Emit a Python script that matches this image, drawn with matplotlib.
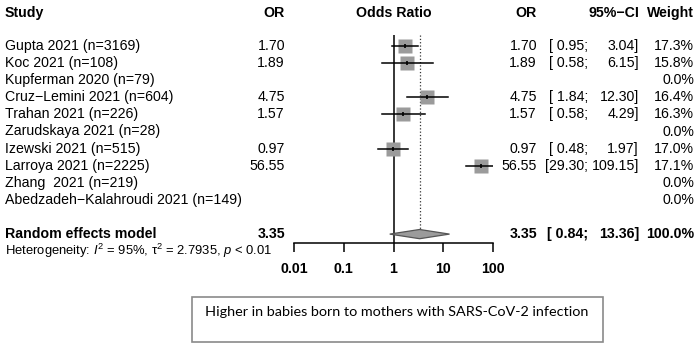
import numpy as np
import matplotlib
matplotlib.use("Agg")
import matplotlib.pyplot as plt
from matplotlib.patches import Polygon, Rectangle

plt.rcParams['font.family'] = ['Liberation Sans', 'DejaVu Sans']
plt.rcParams['mathtext.fontset'] = 'custom'
plt.rcParams['mathtext.rm'] = 'Liberation Sans'
plt.rcParams['mathtext.it'] = 'Liberation Sans:italic'

# data
studies = ["Gupta 2021 (n=3169)", "Koc 2021 (n=108)", "Kupferman 2020 (n=79)",
           "Cruz\u2212Lemini 2021 (n=604)", "Trahan 2021 (n=226)", "Zarudskaya 2021 (n=28)",
           "Izewski 2021 (n=515)", "Larroya 2021 (n=2225)", "Zhang  2021 (n=219)",
           "Abedzadeh\u2212Kalahroudi 2021 (n=149)"]
odds = [1.70, 1.89, np.nan, 4.75, 1.57, np.nan, 0.97, 56.55, np.nan, np.nan]
ci_lo = [0.95, 0.58, np.nan, 1.84, 0.58, np.nan, 0.48, 29.30, np.nan, np.nan]
ci_hi = [3.04, 6.15, np.nan, 12.30, 4.29, np.nan, 1.97, 109.15, np.nan, np.nan]
weight = [17.3, 15.8, 0.0, 16.4, 16.3, 0.0, 17.0, 17.1, 0.0, 0.0]
pooled = (3.35, 0.84, 13.36)
hetero = "Heterogeneity: $I^2$ = 95%, \u03c4$^2$ = 2.7935, $p$ < 0.01"
xticks = [0.01, 0.1, 1, 10, 100]
xticklabels = ["0.01", "0.1", "1", "10", "100"]
note = "Higher in babies born to mothers with SARS-CoV-2 infection"

W, H = 698, 344
fig = plt.figure(figsize=(W / 100, H / 100), dpi=100)

# background axes in pixel units for the text columns
bg = fig.add_axes([0, 0, 1, 1])
bg.set_xlim(0, W)
bg.set_ylim(H, 0)
bg.axis('off')

row0, step = 46, 17.1
def ry(i):
    return row0 + step * i

fs = 10.2
# headers
bg.text(5, 13, "Study", fontsize=fs, fontweight='bold', va='center', ha='left')
bg.text(285, 13, "OR", fontsize=fs, fontweight='bold', va='center', ha='right')
bg.text(394, 13, "Odds Ratio", fontsize=fs, fontweight='bold', va='center', ha='center')
bg.text(537, 13, "OR", fontsize=fs, fontweight='bold', va='center', ha='right')
bg.text(639, 13, "95%\u2212CI", fontsize=fs, fontweight='bold', va='center', ha='right')
bg.text(694, 13, "Weight", fontsize=fs, fontweight='bold', va='center', ha='right')

for i, name in enumerate(studies):
    y = ry(i)
    bg.text(5, y, name, fontsize=fs, va='center', ha='left')
    if not np.isnan(odds[i]):
        bg.text(285, y, f"{odds[i]:.2f}", fontsize=fs, va='center', ha='right')
        bg.text(537, y, f"{odds[i]:.2f}", fontsize=fs, va='center', ha='right')
        lo = f"{ci_lo[i]:.2f}"
        bg.text(588, y, ("[" if len(lo) > 4 else "[ ") + lo + ";", fontsize=fs,
                va='center', ha='right')
        bg.text(639, y, f"{ci_hi[i]:.2f}]", fontsize=fs, va='center', ha='right')
    bg.text(694, y, f"{weight[i]:.1f}%", fontsize=fs, va='center', ha='right')

yr = ry(11)
bg.text(5, yr, "Random effects model", fontsize=fs, fontweight='bold', va='center', ha='left')
bg.text(285, yr, f"{pooled[0]:.2f}", fontsize=fs, fontweight='bold', va='center', ha='right')
bg.text(537, yr, f"{pooled[0]:.2f}", fontsize=fs, fontweight='bold', va='center', ha='right')
bg.text(588, yr, f"[ {pooled[1]:.2f};", fontsize=fs, fontweight='bold', va='center', ha='right')
bg.text(639, yr, f"{pooled[2]:.2f}]", fontsize=fs, fontweight='bold', va='center', ha='right')
bg.text(694, yr, "100.0%", fontsize=fs, fontweight='bold', va='center', ha='right')
bg.text(5, 251, hetero, fontsize=9.4, va='center', ha='left')

# note box
bg.add_patch(Rectangle((192, 297), 411, 45, fill=False, edgecolor='#8a8a8a', lw=1.2))
bg.text(205, 312, note, fontsize=10.4, family='Lato', va='center', ha='left')

# forest axes (log scale)
x0, x1 = 294, 493
ytop, ybot = 35, 243
ax = fig.add_axes([x0 / W, 1 - ybot / H, (x1 - x0) / W, (ybot - ytop) / H])
ax.set_xscale('log')
ax.set_xlim(0.01, 100)
ax.set_ylim((ybot - row0) / step, (ytop - row0) / step)
ax.patch.set_visible(False)
for s in ['top', 'right', 'left']:
    ax.spines[s].set_visible(False)
ax.spines['bottom'].set_linewidth(1.1)
ax.set_yticks([])
ax.set_xticks(xticks)
ax.set_xticklabels(xticklabels, fontsize=fs, fontweight='bold')
ax.minorticks_off()
ax.tick_params(axis='x', direction='out', length=6.5, width=1.1, pad=7.5)

ax.axvline(1, color='black', lw=1.1)
dh = 0.27
ax.plot([pooled[0], pooled[0]], [ax.get_ylim()[1], 11 - dh], color='#333333', lw=0.9, ls=':')

for i in range(len(studies)):
    if np.isnan(odds[i]):
        continue
    side = 14 * np.sqrt(weight[i] / 17.3) * 0.72
    ax.plot(odds[i], i, marker='s', ms=side, color='#9b9b9b', mec='none', zorder=2)
    ax.plot([ci_lo[i], ci_hi[i]], [i, i], color='black', lw=1.1, zorder=3)
    ax.plot(odds[i], i, marker='|', ms=3, color='black', mew=1.2, zorder=4)

dia = Polygon([[pooled[1], 11], [pooled[0], 11 - dh], [pooled[2], 11], [pooled[0], 11 + dh]],
              closed=True, facecolor='#9b9b9b', edgecolor='#555555', lw=0.9, zorder=3)
ax.add_patch(dia)

fig.savefig("out.png", dpi=100)
